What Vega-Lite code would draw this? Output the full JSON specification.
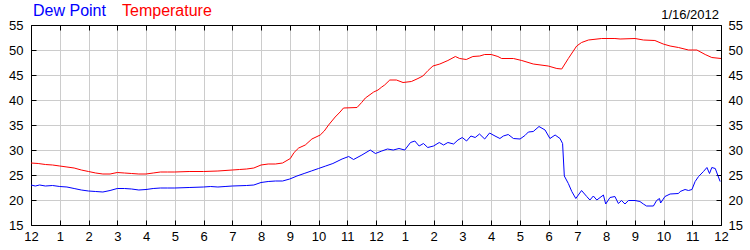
{
 "$schema": "https://vega.github.io/schema/vega-lite/v6.json",
 "width": 690,
 "height": 200,
 "autosize": {"type": "none"},
 "padding": {"left": 31, "top": 25, "right": 29, "bottom": 25},
 "background": "white",
 "config": {"view": {"stroke": null}, "font": "Liberation Sans"},
 "title": {"text": "1/16/2012", "anchor": "end", "frame": "group", "fontSize": 13, "fontWeight": "normal", "font": "Liberation Sans", "color": "black", "baseline": "alphabetic", "offset": -29, "dx": -2},
 "datasets": {
  "temp": [
   {"h":0,"v":27.4},{"h":0.25,"v":27.3},{"h":0.5,"v":27.1},{"h":0.75,"v":27.0},{"h":1.0,"v":26.8},{"h":1.25,"v":26.6},{"h":1.5,"v":26.4},{"h":1.75,"v":26.0},{"h":2.0,"v":25.7},{"h":2.25,"v":25.4},{"h":2.5,"v":25.2},{"h":2.75,"v":25.2},{"h":3.0,"v":25.5},{"h":3.25,"v":25.4},{"h":3.5,"v":25.3},{"h":3.75,"v":25.2},{"h":4.0,"v":25.2},{"h":4.25,"v":25.4},{"h":4.5,"v":25.6},{"h":4.75,"v":25.6},{"h":5.0,"v":25.6},{"h":5.5,"v":25.7},{"h":6.0,"v":25.7},{"h":6.5,"v":25.8},{"h":7.0,"v":26.0},{"h":7.25,"v":26.1},{"h":7.5,"v":26.2},{"h":7.75,"v":26.4},{"h":8.0,"v":27.0},{"h":8.25,"v":27.2},{"h":8.5,"v":27.2},{"h":8.75,"v":27.4},{"h":9.02,"v":28.3},{"h":9.15,"v":29.5},{"h":9.31,"v":30.4},{"h":9.54,"v":31.0},{"h":9.77,"v":32.2},{"h":10.06,"v":33.0},{"h":10.2,"v":33.8},{"h":10.35,"v":35.0},{"h":10.58,"v":36.6},{"h":10.75,"v":37.6},{"h":10.87,"v":38.4},{"h":11.34,"v":38.5},{"h":11.5,"v":39.5},{"h":11.63,"v":40.4},{"h":11.92,"v":41.6},{"h":12.07,"v":42.0},{"h":12.2,"v":42.6},{"h":12.3,"v":43.0},{"h":12.48,"v":44.0},{"h":12.71,"v":44.0},{"h":12.94,"v":43.5},{"h":13.23,"v":43.7},{"h":13.46,"v":44.3},{"h":13.63,"v":44.8},{"h":13.81,"v":45.9},{"h":13.98,"v":46.8},{"h":14.22,"v":47.2},{"h":14.5,"v":47.9},{"h":14.76,"v":48.7},{"h":14.91,"v":48.3},{"h":15.14,"v":48.1},{"h":15.37,"v":48.7},{"h":15.61,"v":48.8},{"h":15.78,"v":49.1},{"h":16.01,"v":49.1},{"h":16.24,"v":48.7},{"h":16.37,"v":48.3},{"h":16.78,"v":48.3},{"h":17.07,"v":47.9},{"h":17.47,"v":47.2},{"h":17.99,"v":46.8},{"h":18.29,"v":46.3},{"h":18.46,"v":46.2},{"h":18.69,"v":48.3},{"h":18.98,"v":50.8},{"h":19.15,"v":51.5},{"h":19.39,"v":52.0},{"h":19.85,"v":52.3},{"h":20.31,"v":52.3},{"h":20.49,"v":52.2},{"h":21.01,"v":52.3},{"h":21.3,"v":52.0},{"h":21.7,"v":51.9},{"h":21.99,"v":51.2},{"h":22.23,"v":50.8},{"h":22.52,"v":50.5},{"h":22.87,"v":50.0},{"h":23.16,"v":50.0},{"h":23.45,"v":49.1},{"h":23.68,"v":48.5},{"h":24.0,"v":48.3}
  ],
  "dew": [
   {"h":0,"v":23.0},{"h":0.15,"v":22.8},{"h":0.3,"v":23.0},{"h":0.5,"v":22.8},{"h":0.75,"v":22.9},{"h":1.0,"v":22.7},{"h":1.25,"v":22.6},{"h":1.5,"v":22.3},{"h":1.75,"v":22.0},{"h":2.0,"v":21.8},{"h":2.25,"v":21.7},{"h":2.5,"v":21.6},{"h":2.75,"v":21.9},{"h":3.0,"v":22.3},{"h":3.25,"v":22.3},{"h":3.5,"v":22.2},{"h":3.75,"v":22.0},{"h":4.0,"v":22.1},{"h":4.25,"v":22.3},{"h":4.5,"v":22.4},{"h":4.75,"v":22.4},{"h":5.0,"v":22.4},{"h":5.5,"v":22.5},{"h":6.0,"v":22.6},{"h":6.25,"v":22.7},{"h":6.5,"v":22.6},{"h":6.75,"v":22.7},{"h":7.0,"v":22.8},{"h":7.5,"v":22.9},{"h":7.75,"v":23.0},{"h":8.0,"v":23.5},{"h":8.25,"v":23.7},{"h":8.5,"v":23.8},{"h":8.75,"v":23.8},{"h":9.0,"v":24.2},{"h":9.25,"v":24.8},{"h":9.5,"v":25.3},{"h":9.75,"v":25.8},{"h":10.0,"v":26.3},{"h":10.25,"v":26.8},{"h":10.5,"v":27.3},{"h":10.82,"v":28.2},{"h":11.05,"v":28.7},{"h":11.22,"v":28.1},{"h":11.51,"v":29.0},{"h":11.8,"v":30.0},{"h":11.98,"v":29.3},{"h":12.2,"v":29.8},{"h":12.4,"v":30.2},{"h":12.6,"v":30.0},{"h":12.8,"v":30.3},{"h":13.0,"v":30.0},{"h":13.2,"v":31.5},{"h":13.35,"v":31.8},{"h":13.5,"v":30.8},{"h":13.65,"v":31.3},{"h":13.8,"v":30.5},{"h":14.0,"v":30.8},{"h":14.2,"v":31.5},{"h":14.35,"v":31.0},{"h":14.5,"v":31.5},{"h":14.7,"v":31.2},{"h":14.85,"v":32.0},{"h":15.0,"v":32.5},{"h":15.15,"v":31.8},{"h":15.3,"v":32.8},{"h":15.45,"v":32.5},{"h":15.6,"v":33.2},{"h":15.78,"v":32.2},{"h":15.95,"v":33.4},{"h":16.14,"v":32.8},{"h":16.31,"v":32.3},{"h":16.43,"v":32.8},{"h":16.6,"v":33.1},{"h":16.78,"v":32.3},{"h":17.01,"v":32.2},{"h":17.18,"v":32.9},{"h":17.3,"v":33.6},{"h":17.47,"v":33.7},{"h":17.67,"v":34.7},{"h":17.88,"v":34.0},{"h":18.05,"v":32.3},{"h":18.23,"v":33.0},{"h":18.4,"v":32.3},{"h":18.49,"v":31.3},{"h":18.55,"v":24.8},{"h":18.69,"v":23.3},{"h":18.81,"v":21.7},{"h":18.95,"v":20.3},{"h":19.15,"v":21.9},{"h":19.33,"v":20.7},{"h":19.44,"v":20.0},{"h":19.56,"v":20.8},{"h":19.68,"v":20.0},{"h":19.91,"v":21.0},{"h":19.99,"v":19.2},{"h":20.14,"v":20.5},{"h":20.31,"v":20.7},{"h":20.43,"v":19.3},{"h":20.54,"v":19.9},{"h":20.66,"v":19.2},{"h":20.78,"v":19.9},{"h":21.01,"v":19.9},{"h":21.18,"v":19.7},{"h":21.3,"v":19.2},{"h":21.41,"v":18.8},{"h":21.65,"v":18.8},{"h":21.76,"v":19.9},{"h":21.86,"v":20.3},{"h":21.9,"v":19.4},{"h":22.05,"v":20.7},{"h":22.23,"v":21.2},{"h":22.52,"v":21.3},{"h":22.58,"v":21.7},{"h":22.75,"v":22.1},{"h":22.87,"v":21.9},{"h":22.99,"v":22.1},{"h":23.1,"v":23.7},{"h":23.22,"v":24.7},{"h":23.39,"v":25.7},{"h":23.51,"v":26.5},{"h":23.6,"v":25.3},{"h":23.68,"v":26.5},{"h":23.8,"v":26.3},{"h":23.97,"v":23.7}
  ]
 },
 "layer": [
  {
   "data": {"name": "dew"},
   "transform": [{"calculate": "'Dew Point'", "as": "s"}],
   "mark": {"type": "line", "strokeWidth": 1, "clip": true},
   "encoding": {
    "x": {"field": "h", "type": "quantitative", "scale": {"domain": [0, 24], "nice": false, "zero": false},
      "axis": {"orient": "bottom", "values": [0,1,2,3,4,5,6,7,8,9,10,11,12,13,14,15,16,17,18,19,20,21,22,23,24], "labelExpr": "datum.value % 12 == 0 ? '12' : '' + (datum.value % 12)", "title": null, "grid": true, "gridColor": "#cccccc", "gridWidth": 1, "domainColor": "black", "tickColor": "black", "tickSize": -5, "labelPadding": 10, "labelFontSize": 13, "labelFont": "Liberation Sans", "labelColor": "black", "labelFlush": false, "labelOverlap": false}},
    "y": {"field": "v", "type": "quantitative", "scale": {"domain": [15, 55], "nice": false, "zero": false},
      "axis": {"orient": "left", "values": [15,20,25,30,35,40,45,50,55], "title": null, "grid": true, "gridColor": "#cccccc", "gridWidth": 1, "domainColor": "black", "tickColor": "black", "tickSize": -5, "labelPadding": 13, "labelFontSize": 13, "labelFont": "Liberation Sans", "labelColor": "black", "labelFlush": false, "labelOverlap": false}},
    "color": {"field": "s", "type": "nominal", "scale": {"domain": ["Dew Point", "Temperature"], "range": ["#0000ff", "#ff0000"]},
      "legend": {"orient": "none", "legendX": -14, "legendY": -22, "direction": "horizontal", "title": null, "symbolSize": 0, "symbolOpacity": 0, "symbolStrokeWidth": 0, "labelOffset": 0, "padding": 0, "columnPadding": -15, "labelFontSize": 16, "labelFont": "Liberation Sans", "encode": {"labels": {"update": {"fill": {"scale": "color", "field": "value"}}}}}}
   }
  },
  {
   "data": {"name": "temp"},
   "transform": [{"calculate": "'Temperature'", "as": "s"}],
   "mark": {"type": "line", "strokeWidth": 1, "clip": true},
   "encoding": {
    "x": {"field": "h", "type": "quantitative", "axis": null},
    "y": {"field": "v", "type": "quantitative", "axis": null},
    "color": {"field": "s", "type": "nominal"}
   }
  },
  {
   "data": {"name": "temp"},
   "mark": {"type": "line", "opacity": 0},
   "encoding": {
    "x": {"field": "h", "type": "quantitative",
      "axis": {"orient": "top", "values": [0,1,2,3,4,5,6,7,8,9,10,11,12,13,14,15,16,17,18,19,20,21,22,23,24], "labels": false, "title": null, "grid": false, "domainColor": "black", "tickColor": "black", "tickSize": -5}},
    "y": {"field": "v", "type": "quantitative",
      "axis": {"orient": "right", "values": [15,20,25,30,35,40,45,50,55], "title": null, "grid": false, "domainColor": "black", "tickColor": "black", "tickSize": -5, "labelPadding": 12, "labelFontSize": 13, "labelFont": "Liberation Sans", "labelColor": "black", "labelFlush": false, "labelOverlap": false}}
   }
  }
 ],
 "resolve": {"axis": {"x": "independent", "y": "independent"}}
}
